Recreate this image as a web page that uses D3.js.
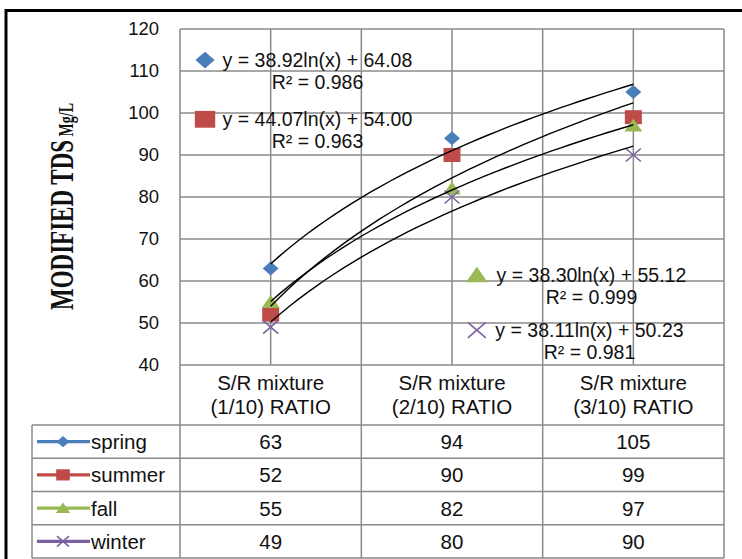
<!DOCTYPE html>
<html>
<head>
<meta charset="utf-8">
<script src="https://cdn.jsdelivr.net/npm/d3@7"></script>
<style>
  html, body { margin: 0; padding: 0; background: #fff; }
  svg text { font-family: "Liberation Sans", Arial, sans-serif; fill: #111; }
</style>
</head>
<body>
<div id="chart"></div>
<script>
// data
const categories = ['S/R mixture\n(1/10) RATIO', 'S/R mixture\n(2/10) RATIO', 'S/R mixture\n(3/10) RATIO'];
const seriesNames = ['spring', 'summer', 'fall', 'winter'];
const spring = [63, 94, 105];
const summer = [52, 90, 99];
const fall = [55, 82, 97];
const winter = [49, 80, 90];
const yTicks = [40, 50, 60, 70, 80, 90, 100, 110, 120];
// log trendlines y = a ln(x) + b, as printed on the chart
const trendA = [38.92, 44.07, 38.30, 38.11];
const trendB = [64.08, 54.00, 55.12, 50.23];
const trendEq = ['y = 38.92ln(x) + 64.08', 'y = 44.07ln(x) + 54.00', 'y = 38.30ln(x) + 55.12', 'y = 38.11ln(x) + 50.23'];
const trendR2 = ['R² = 0.986', 'R² = 0.963', 'R² = 0.999', 'R² = 0.981'];

const values = [spring, summer, fall, winter];
const colors = ['#4a7ebb', '#be4b48', '#98b954', '#7d60a0'];
const shapes = ['diamond', 'square', 'triangle', 'x'];

// where the equation labels sit (category position, value)
const labelPos = [
  { mx: 0.638, x: 1.258, y: 112.6 },
  { mx: 0.638, x: 1.258, y: 98.5 },
  { mx: 2.137, x: 2.769, y: 61.4 },
  { mx: 2.137, x: 2.758, y: 48.3 }
];

const W = 742, H = 559;
const plot = { left: 180, right: 724, top: 29, bottom: 365 };
const table = { left: 32, headBottom: 425, bottom: 558 };
const gridColor = '#8a8a8a';
const eqSize = 19.5, cellSize = 20.5;

const svg = d3.select('#chart').append('svg')
  .attr('width', W).attr('height', H);

const xBand = d3.scaleBand().domain(d3.range(categories.length)).range([plot.left, plot.right]).padding(0);
// continuous category position: 1 = first category centre
const xPos = d3.scaleLinear().domain([0.5, categories.length + 0.5]).range([plot.left, plot.right]);
const y = d3.scaleLinear().domain([40, 120]).range([plot.bottom, plot.top]);

// outer frame (open to the right and bottom, cropped)
svg.append('path')
  .attr('d', `M6,${H} L6,10.5 L${W},10.5`)
  .attr('fill', 'none').attr('stroke', '#000').attr('stroke-width', 3);

// grid
const grid = svg.append('g').attr('stroke', gridColor).attr('stroke-width', 1.5);
yTicks.forEach(v => {
  grid.append('line').attr('x1', plot.left).attr('x2', plot.right).attr('y1', y(v)).attr('y2', y(v));
});
d3.range(0.5, categories.length + 0.51, 0.5).forEach(p => {
  grid.append('line').attr('x1', xPos(p)).attr('x2', xPos(p)).attr('y1', plot.top).attr('y2', plot.bottom);
});

// y axis labels
const yAxis = d3.axisLeft(y).tickValues(yTicks).tickSize(0).tickPadding(21);
const yg = svg.append('g').attr('transform', `translate(${plot.left},0)`).call(yAxis);
yg.select('.domain').remove();
yg.selectAll('text').style('font-family', '"Liberation Sans", Arial, sans-serif').style('font-size', '18.5px').attr('fill', '#111');

// y axis title
const yt = svg.append('text')
  .attr('transform', 'translate(73,310) rotate(-90) scale(1,1.5)')
  .style('font-family', '"Liberation Serif", "Times New Roman", serif')
  .style('font-weight', 'bold');
yt.append('tspan').style('font-size', '23px').text('MODIFIED TDS');
yt.append('tspan').style('font-size', '14px').text(' Mg/L');

function marker(g, shape, color, s) {
  if (shape === 'diamond') {
    g.append('path').attr('d', `M0,${-7 * s} L${8 * s},0 L0,${7 * s} L${-8 * s},0 Z`).attr('fill', color);
  } else if (shape === 'square') {
    g.append('rect').attr('x', -8.5 * s).attr('y', -7 * s).attr('width', 17 * s).attr('height', 14 * s).attr('fill', color);
  } else if (shape === 'triangle') {
    g.append('path').attr('d', `M0,${-7 * s} L${9 * s},${6 * s} L${-9 * s},${6 * s} Z`).attr('fill', color);
  } else {
    g.append('path').attr('d', `M${-7.5 * s},${-6.5 * s} L${7.5 * s},${6.5 * s} M${-7.5 * s},${6.5 * s} L${7.5 * s},${-6.5 * s}`)
      .attr('stroke', color).attr('stroke-width', 1.6).attr('fill', 'none');
  }
}

// data markers
values.forEach((vals, si) => {
  vals.forEach((v, ci) => {
    const g = svg.append('g').attr('transform', `translate(${xBand(ci) + xBand.bandwidth() / 2},${y(v)})`);
    marker(g, shapes[si], colors[si], 1);
  });
});

// trendlines
const line = d3.line().x(d => xPos(d[0])).y(d => y(d[1]));
values.forEach((vals, si) => {
  const pts = d3.range(1, categories.length + 0.001, 0.05).map(t => [t, trendA[si] * Math.log(t) + trendB[si]]);
  svg.append('path').attr('d', line(pts))
    .attr('fill', 'none').attr('stroke', '#000').attr('stroke-width', 1.4);
});

// trendline labels
labelPos.forEach((p, si) => {
  const mg = svg.append('g').attr('transform', `translate(${xPos(p.mx)},${y(p.y)})`);
  marker(mg, shapes[si], colors[si], 1.2);
  svg.append('text').attr('x', xPos(p.x)).attr('y', y(p.y)).attr('dy', '0.36em')
    .attr('text-anchor', 'middle').style('font-size', eqSize + 'px').text(trendEq[si]);
  svg.append('text').attr('x', xPos(p.x)).attr('y', y(p.y) + 22).attr('dy', '0.36em')
    .attr('text-anchor', 'middle').style('font-size', eqSize + 'px').text(trendR2[si]);
});

// data table
const rowH = (table.bottom - table.headBottom) / seriesNames.length;
const tb = svg.append('g').attr('stroke', gridColor).attr('stroke-width', 1.5);
// header cell borders
d3.range(categories.length + 1).forEach(i => {
  const x = plot.left + i * xBand.bandwidth();
  tb.append('line').attr('x1', x).attr('x2', x).attr('y1', plot.bottom).attr('y2', table.bottom);
});
tb.append('line').attr('x1', table.left).attr('x2', table.left).attr('y1', table.headBottom).attr('y2', table.bottom);
d3.range(seriesNames.length + 1).forEach(i => {
  const yy = table.headBottom + i * rowH;
  tb.append('line').attr('x1', table.left).attr('x2', plot.right).attr('y1', yy).attr('y2', yy);
});

categories.forEach((c, ci) => {
  const cx = xBand(ci) + xBand.bandwidth() / 2;
  c.split('\n').forEach((t, li) => {
    svg.append('text').attr('x', cx).attr('y', 383 + li * 24).attr('dy', '0.36em')
      .attr('text-anchor', 'middle').style('font-size', cellSize + 'px').text(t);
  });
});

seriesNames.forEach((name, si) => {
  const cy = table.headBottom + (si + 0.5) * rowH;
  svg.append('line').attr('x1', 37).attr('x2', 90).attr('y1', cy).attr('y2', cy)
    .attr('stroke', colors[si]).attr('stroke-width', 3.2);
  const mg = svg.append('g').attr('transform', `translate(63,${cy})`);
  marker(mg, shapes[si], colors[si], 0.8);
  svg.append('text').attr('x', 91).attr('y', cy).attr('dy', '0.36em').style('font-size', cellSize + 'px').text(name);
  values[si].forEach((v, ci) => {
    svg.append('text').attr('x', xBand(ci) + xBand.bandwidth() / 2).attr('y', cy).attr('dy', '0.36em')
      .attr('text-anchor', 'middle').style('font-size', cellSize + 'px').text(v);
  });
});
</script>
</body>
</html>
